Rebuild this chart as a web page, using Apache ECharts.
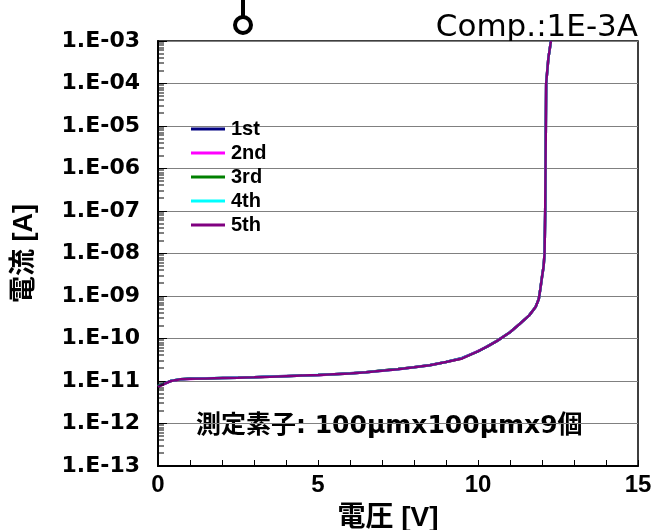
<!DOCTYPE html>
<html>
<head>
<meta charset="utf-8">
<script src="https://cdn.jsdelivr.net/npm/echarts@6/dist/echarts.min.js"></script>
<style>html,body{margin:0;padding:0;background:#fff}#c{width:654px;height:530px}</style>
</head>
<body>
<div id="c"></div>
<script>
// Voltage [V]
const voltage = [0,0.2,0.4,0.7,1.0,1.5,2.0,2.5,3.0,3.5,4.0,4.5,5.0,5.5,6.0,6.5,7.0,7.5,8.0,8.5,9.0,9.5,10.0,10.3,10.6,11.0,11.3,11.6,11.8,11.9,11.95,12.0,12.05,12.08,12.1,12.11,12.12,12.13,12.2,12.28];
// Current [A] for each run
const run1 = [7.6e-12,8.8e-12,1.0e-11,1.1e-11,1.14e-11,1.15e-11,1.18e-11,1.2e-11,1.22e-11,1.27e-11,1.31e-11,1.35e-11,1.39e-11,1.45e-11,1.52e-11,1.6e-11,1.76e-11,1.92e-11,2.1e-11,2.38e-11,2.8e-11,3.5e-11,5.0e-11,6.6e-11,8.9e-11,1.4e-10,2.2e-10,3.5e-10,5.5e-10,8.6e-10,1.5e-9,2.8e-9,5e-9,1e-8,1e-7,1e-6,1e-5,1e-4,4e-4,1e-3];
const run2 = [7.4e-12,8.5e-12,1.0e-11,1.09e-11,1.12e-11,1.16e-11,1.17e-11,1.2e-11,1.23e-11,1.26e-11,1.29e-11,1.34e-11,1.37e-11,1.44e-11,1.5e-11,1.61e-11,1.74e-11,1.9e-11,2.1e-11,2.34e-11,2.8e-11,3.4e-11,5.1e-11,6.5e-11,8.8e-11,1.4e-10,2.2e-10,3.5e-10,5.5e-10,8.5e-10,1.5e-9,2.8e-9,5e-9,1e-8,1e-7,1e-6,1e-5,1e-4,4e-4,1e-3];
const run3 = [7.5e-12,8.7e-12,1.0e-11,1.1e-11,1.13e-11,1.14e-11,1.17e-11,1.19e-11,1.23e-11,1.26e-11,1.3e-11,1.35e-11,1.38e-11,1.45e-11,1.5e-11,1.6e-11,1.76e-11,1.91e-11,2.1e-11,2.36e-11,2.8e-11,3.4e-11,5.0e-11,6.5e-11,8.8e-11,1.4e-10,2.2e-10,3.5e-10,5.5e-10,8.5e-10,1.5e-9,2.8e-9,5e-9,1e-8,1e-7,1e-6,1e-5,1e-4,4e-4,1e-3];
const run4 = [7.7e-12,8.6e-12,1.01e-11,1.1e-11,1.13e-11,1.16e-11,1.18e-11,1.2e-11,1.22e-11,1.27e-11,1.3e-11,1.34e-11,1.39e-11,1.44e-11,1.51e-11,1.6e-11,1.75e-11,1.9e-11,2.11e-11,2.35e-11,2.8e-11,3.45e-11,5.0e-11,6.5e-11,8.8e-11,1.4e-10,2.2e-10,3.5e-10,5.5e-10,8.5e-10,1.5e-9,2.8e-9,5e-9,1e-8,1e-7,1e-6,1e-5,1e-4,4e-4,1e-3];
const run5 = [7.3e-12,8.6e-12,1.0e-11,1.1e-11,1.13e-11,1.15e-11,1.17e-11,1.19e-11,1.22e-11,1.26e-11,1.3e-11,1.34e-11,1.38e-11,1.44e-11,1.5e-11,1.6e-11,1.75e-11,1.9e-11,2.1e-11,2.35e-11,2.8e-11,3.4e-11,5.0e-11,6.5e-11,8.8e-11,1.4e-10,2.2e-10,3.5e-10,5.5e-10,8.5e-10,1.5e-9,2.8e-9,5e-9,1e-8,1e-7,1e-6,1e-5,1e-4,4e-4,1e-3];
const runNames = ['1st','2nd','3rd','4th','5th'];
const runColors = ['#000080','#ff00ff','#008000','#00ffff','#800080'];
const runs = [run1, run2, run3, run4, run5];
// Axis ranges / ticks
const yMin = 1e-13, yMax = 1e-3;
const xMin = 0, xMax = 15, xInterval = 5;
const yDecades = [-13,-12,-11,-10,-9,-8,-7,-6,-5,-4];
const minorMultipliers = [2,3,4,5,6,7,8,9];

const minorTickValues = [];
yDecades.forEach(e => minorMultipliers.forEach(k => minorTickValues.push([xMin, k * Math.pow(10, e)])));

const FONT = '"Liberation Sans","Noto Sans CJK JP",sans-serif';
const WFONT = '"DejaVu Sans","Noto Sans CJK JP",sans-serif';

const series = runs.map((r, i) => ({
  name: runNames[i],
  type: 'line',
  data: voltage.map((v, j) => [v, r[j]]),
  showSymbol: false,
  symbol: 'none',
  lineStyle: { color: runColors[i], width: 2.5 },
  itemStyle: { color: runColors[i] },
  animation: false,
  z: 3 + i
}));

series.push({
  type: 'custom',
  name: 'minorTicks',
  coordinateSystem: 'cartesian2d',
  silent: true,
  animation: false,
  data: minorTickValues,
  encode: { x: 0, y: 1 },
  clip: false,
  z: 20,
  renderItem: function (params, api) {
    const p = api.coord([api.value(0), api.value(1)]);
    return {
      type: 'rect',
      shape: { x: p[0], y: Math.round(p[1]) - 0.5, width: 6, height: 1 },
      style: { fill: '#000' }
    };
  }
});

const chart = echarts.init(document.getElementById('c'), null, { renderer: 'canvas' });
chart.setOption({
  backgroundColor: '#fff',
  animation: false,
  grid: { left: 158, right: 16, top: 41, bottom: 64, show: true, borderColor: '#000', borderWidth: 1.5, backgroundColor: 'transparent', containLabel: false, outerBoundsMode: 'none' },
  legend: {
    data: runNames,
    orient: 'vertical',
    left: 186, top: 114,
    itemWidth: 34, itemHeight: 3, itemGap: 4,
    icon: 'rect',
    textStyle: { fontFamily: FONT, fontWeight: 'bold', fontSize: 20, color: '#000', lineHeight: 19, padding: [0, 0, 0, 1] }
  },
  xAxis: {
    type: 'value', min: xMin, max: xMax, interval: xInterval,
    axisLine: { lineStyle: { color: '#000', width: 2 } },
    axisTick: { inside: true, length: 6, lineStyle: { color: '#000' } },
    minorTick: { show: true, splitNumber: 5, length: 6, lineStyle: { color: '#000' } },
    splitLine: { show: false },
    axisLabel: { fontFamily: FONT, fontWeight: 'bold', fontSize: 24, color: '#000', margin: 7 },
    name: '電圧 [V]', nameLocation: 'middle', nameGap: 38,
    nameTextStyle: { fontFamily: FONT, fontWeight: 'bold', fontSize: 28, color: '#000', padding: [0, 20, 0, 0] }
  },
  yAxis: {
    type: 'log', logBase: 10, min: yMin, max: yMax, interval: 1,
    axisLine: { lineStyle: { color: '#000', width: 2 } },
    axisTick: { inside: true, length: 9, lineStyle: { color: '#000' } },
    splitLine: { show: true, lineStyle: { color: '#808080', width: 1 } },
    axisLabel: {
      fontFamily: WFONT, fontWeight: 'bold', fontSize: 22, color: '#000', margin: 18,
      formatter: function (v) {
        const e = Math.round(Math.log10(v));
        const a = Math.abs(e);
        return '1.E' + (e < 0 ? '-' : '+') + (a < 10 ? '0' + a : '' + a);
      }
    },
    name: '電流 [A]', nameLocation: 'middle', nameGap: 120, nameRotate: 90,
    nameTextStyle: { fontFamily: FONT, fontWeight: 'bold', fontSize: 27, color: '#000' }
  },
  graphic: [
    { type: 'line', shape: { x1: 243, y1: 0, x2: 243, y2: 16 }, style: { stroke: '#000', lineWidth: 4 } },
    { type: 'circle', shape: { cx: 243, cy: 25, r: 8 }, style: { stroke: '#000', lineWidth: 4, fill: 'none' } },
    { type: 'text', right: 16, top: 12, style: { text: 'Comp.:1E-3A', font: '31px "DejaVu Sans",sans-serif', fill: '#000' } },
    { type: 'text', left: 196, top: 414, style: { text: '測定素子: 100μmx100μmx9個', font: 'bold 25px "DejaVu Sans","Noto Sans CJK JP",sans-serif', fill: '#000' } }
  ],
  series: series
});
</script>
</body>
</html>
